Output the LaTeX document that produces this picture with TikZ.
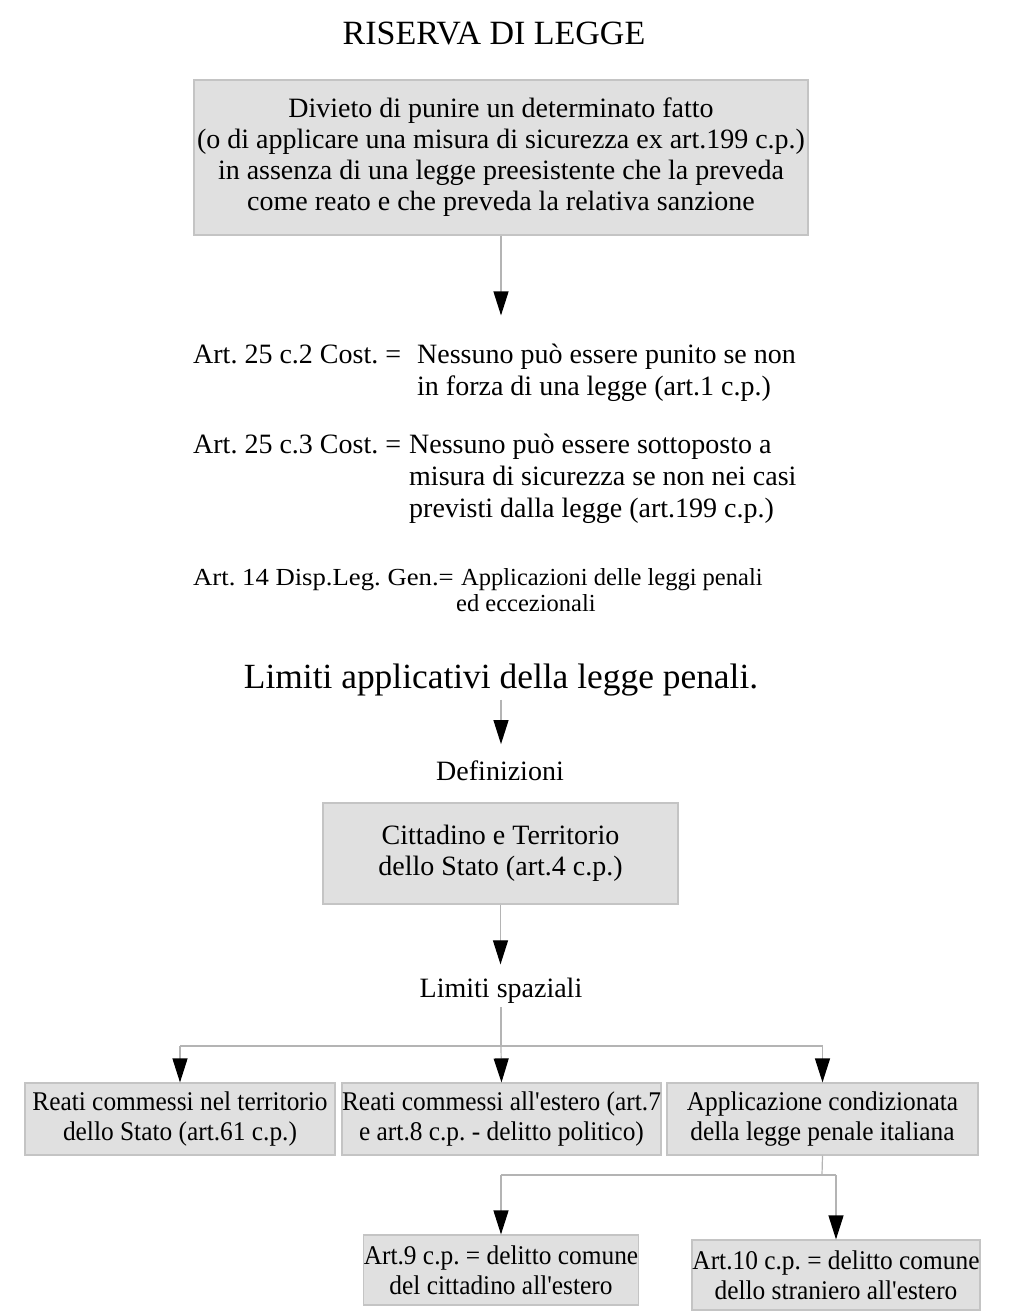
\documentclass[tikz,border=0pt]{standalone}
\usepackage{graphicx}
\usepackage{fontspec}
\setmainfont{Liberation Serif}
\newfontfamily\condfont[FakeStretch=0.94]{Liberation Serif}
\usetikzlibrary{arrows.meta}
\definecolor{linegray}{HTML}{B4B4B4}
\definecolor{boxfill}{HTML}{E0E0E0}
\definecolor{boxborder}{HTML}{C4C4C4}
\tikzset{
  conn/.style={draw=linegray, line width=1.2pt},
  arr/.style={conn, -{Triangle[width=15pt,length=24pt,color=black,fill=black]}},
  box/.style={draw=boxborder, fill=boxfill, line width=1.2pt, inner sep=0pt, align=center},
  bigbox/.style={box, font=\fontsize{28}{31}\selectfont},
  smallbox/.style={box, font=\condfont\fontsize{27}{30}\selectfont},
  plain/.style={inner sep=0pt, align=center}
}
\begin{document}
\frenchspacing
\begin{tikzpicture}[x=1pt,y=-1pt]
\useasboundingbox (0,0) rectangle (1024,1312);
\fill[white] (0,0) rectangle (1024,1312);

\node[plain, anchor=base, font=\fontsize{34}{38}\selectfont] (title) at (494,44) {RISERVA DI LEGGE};

\node[bigbox, minimum width=614pt, minimum height=155pt] (top) at (501,157.5)
 {Divieto di punire un determinato fatto\\
  (o di applicare una misura di sicurezza ex art.199 c.p.)\\
  in assenza di una legge preesistente che la preveda\\
  come reato e che preveda la relativa sanzione};

\node[plain, anchor=base west, font=\fontsize{28}{32}\selectfont] (art1) at (193,363)
 {\begin{tabular}[t]{@{}p{224pt}@{}l@{}}Art. 25 c.2 Cost. = & Nessuno può essere punito se non\\ & in forza di una legge (art.1 c.p.)\end{tabular}};

\node[plain, anchor=base west, font=\fontsize{28}{32}\selectfont] (art2) at (193,453)
 {\begin{tabular}[t]{@{}p{216pt}@{}l@{}}Art. 25 c.3 Cost. = & Nessuno può essere sottoposto a\\ & misura di sicurezza se non nei casi\\ & previsti dalla legge (art.199 c.p.)\end{tabular}};

\node[plain, anchor=base west, font=\fontsize{24.5}{26}\selectfont] (art3) at (193,585)
 {\begin{tabular}[t]{@{}p{268pt}@{}l@{}}\scalebox{1.09}[1]{Art. 14 Disp.Leg. Gen.=} & Applicazioni delle leggi penali\\ & \hspace{-5pt}ed eccezionali\end{tabular}};

\node[plain, anchor=base, font=\fontsize{35.4}{40}\selectfont] (lim) at (501,688) {Limiti applicativi della legge penali.};

\node[plain, anchor=base, font=\fontsize{28}{32}\selectfont] (def) at (500,780) {Definizioni};

\node[bigbox, minimum width=355pt, minimum height=101pt] (citt) at (500.5,853.5)
 {Cittadino e Territorio\\dello Stato (art.4 c.p.)};

\node[plain, anchor=base, font=\fontsize{28}{32}\selectfont] (spaz) at (501,997) {Limiti spaziali};

\node[smallbox, minimum width=310pt, minimum height=72pt] (b1) at (180,1119)
 {Reati commessi nel territorio\\dello Stato (art.61 c.p.)};
\node[smallbox, minimum width=317pt, minimum height=72pt] (b2) at (501.5,1119)
 {Reati commessi all'estero (art.7\\e art.8 c.p. - delitto politico)};
\node[smallbox, minimum width=311pt, minimum height=72pt] (b3) at (822.5,1119)
 {Applicazione condizionata\\della legge penale italiana};
\node[smallbox, minimum width=272pt, minimum height=70pt] (b4) at (501,1270)
 {Art.9 c.p. = delitto comune\\del cittadino all'estero};
\node[smallbox, minimum width=288pt, minimum height=70pt] (b5) at (836,1275)
 {Art.10 c.p. = delitto comune\\dello straniero all'estero};

\coordinate (j1) at (501,1046);
\coordinate (j2) at (822,1175);

% connectors
\draw[arr, shorten >=25pt] (top.south) -- (top.south |- art1.north);
\draw[arr, shorten <=4pt, shorten >=16pt] (lim.south) -- (lim.south |- def.north);
\draw[arr, shorten >=13pt] (citt.south) -- (citt.south |- spaz.north);
\draw[conn, shorten <=4pt] (spaz.south) -- (j1);
\draw[arr] (j1) -- (b2.north);
\draw[conn] (b1.north |- j1) -- (b3.north |- j1);
\draw[arr] (b1.north |- j1) -- (b1.north);
\draw[arr] (b3.north |- j1) -- (b3.north);
\draw[conn] (b3.south) -- (j2);
\draw[conn] (b4.north |- j2) -- (b5.north |- j2);
\draw[arr] (b4.north |- j2) -- (b4.north);
\draw[arr] (b5.north |- j2) -- (b5.north);
\end{tikzpicture}
\end{document}
